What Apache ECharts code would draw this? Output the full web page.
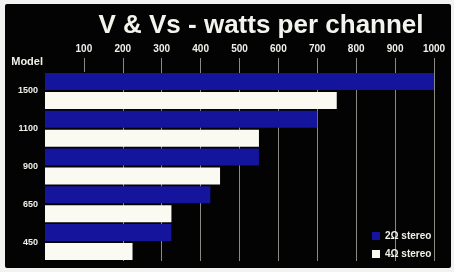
<!DOCTYPE html>
<html>
<head>
<meta charset="utf-8">
<script src="https://cdn.jsdelivr.net/npm/echarts@6/dist/echarts.min.js"></script>
<style>
html,body{margin:0;padding:0;background:#f2f2f0;}
#c{width:454px;height:272px;}
</style>
</head>
<body>
<div id="c"></div>
<script>
const titleText = 'V & Vs - watts per channel';
const models = ['1500', '1100', '900', '650', '450'];
const seriesNames = ['2Ω stereo', '4Ω stereo'];
const stereo2ohm = [1000, 700, 550, 425, 325];
const stereo4ohm = [750, 550, 450, 325, 225];
const tickValues = [100, 200, 300, 400, 500, 600, 700, 800, 900, 1000];

const font = '"Liberation Sans", Arial, sans-serif';
const chart = echarts.init(document.getElementById('c'), null, {renderer: 'canvas'});
chart.setOption({
  backgroundColor: '#f2f2f0',
  animation: false,
  graphic: [{
    type: 'rect', z: -10, silent: true,
    shape: {x: 5, y: 4, width: 446, height: 264, r: 2},
    style: {fill: '#030303'}
  }],
  title: {
    text: titleText,
    left: 256, top: 8, textAlign: 'center',
    textStyle: {color: '#f4f4ee', fontSize: 26, fontWeight: 'bold', fontFamily: font}
  },
  legend: {
    orient: 'vertical',
    left: 367, top: 225,
    itemWidth: 8, itemHeight: 8, itemGap: 6,
    icon: 'rect',
    data: seriesNames,
    textStyle: {color: '#f0f0ea', fontSize: 10, fontWeight: 'bold', fontFamily: font, lineHeight: 12}
  },
  grid: {left: 45, right: 20, top: 72, bottom: 11},
  xAxis: {
    type: 'value', position: 'top',
    min: 0, max: 1000, interval: 100,
    axisLine: {show: false},
    axisTick: {show: true, length: 14, customValues: tickValues, lineStyle: {color: '#8a8a84', width: 1}},
    axisLabel: {
      color: '#f0f0ea', fontSize: 10, fontWeight: 'bold', fontFamily: font, margin: 18,
      customValues: tickValues,
      formatter: function (v) { return String(v); }
    },
    splitLine: {show: true, showMinLine: false, lineStyle: {color: '#8a8a84', width: 1}}
  },
  yAxis: {
    type: 'category', inverse: true,
    data: models,
    name: 'Model', nameLocation: 'start', nameGap: 5,
    nameTextStyle: {color: '#f0f0ea', fontSize: 11, fontWeight: 'bold', fontFamily: font, align: 'right', padding: [0, 2, 0, 0]},
    axisLine: {show: false},
    axisTick: {show: false},
    axisLabel: {color: '#f0f0ea', fontSize: 9, fontWeight: 'bold', fontFamily: font, margin: 7}
  },
  series: [
    {name: seriesNames[0], type: 'bar', data: stereo2ohm, barWidth: 17, barGap: '12%',
     itemStyle: {color: '#14149c'}},
    {name: seriesNames[1], type: 'bar', data: stereo4ohm, barWidth: 17,
     itemStyle: {color: '#fafaf2'}}
  ]
});
</script>
</body>
</html>
